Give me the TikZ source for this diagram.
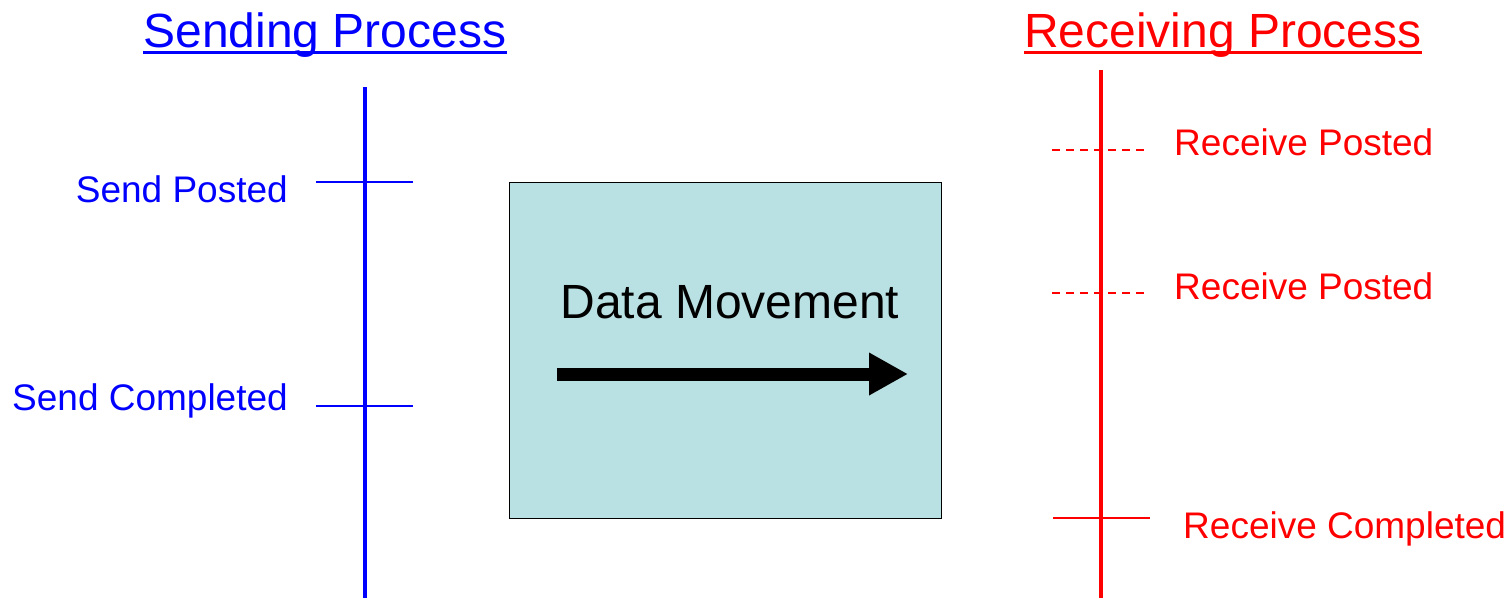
\documentclass[tikz,border=0pt]{standalone}
\usepackage{fontspec}
\setmainfont{Liberation Sans}
\usetikzlibrary{arrows.meta}
\definecolor{sendblue}{RGB}{0,0,255}
\definecolor{recvred}{RGB}{255,0,0}
\definecolor{boxfill}{RGB}{185,224,226}
\tikzset{
  label37/.style={inner sep=0pt, font=\fontsize{37}{44}\selectfont},
  title48/.style={inner sep=0pt, font=\fontsize{48}{56}\selectfont},
  timeline/.style={line width=4pt},
  tick/.style={line width=1.5pt},
  dashtick/.style={line width=1.5pt, dash pattern=on 8pt off 6pt},
}
\begin{document}
\begin{tikzpicture}[x=1pt,y=-1pt]
\useasboundingbox (0,0) rectangle (1509,598);

% titles
\node[title48, text=sendblue, anchor=base] (sendtitle) at (325,47) {Sending Process};
\draw[sendblue, line width=3pt] ([yshift=-5pt]sendtitle.base west) -- ([yshift=-5pt]sendtitle.base east);
\node[title48, text=recvred, anchor=base] (recvtitle) at (1223,47) {Receiving Process};
\draw[recvred, line width=3pt] ([yshift=-5pt]recvtitle.base west) -- ([yshift=-5pt]recvtitle.base east);

% sending timeline
\coordinate (stop) at (365,87);
\coordinate (sbot) at (365,598);
\draw[sendblue, timeline] (stop) -- (sbot);
\coordinate (sp1) at (316,182); \coordinate (sp2) at (413,182);
\coordinate (sc1) at (316,406); \coordinate (sc2) at (413,406);
\draw[sendblue, tick] (sp1) -- (sp2);
\draw[sendblue, tick] (sc1) -- (sc2);
\node[label37, text=sendblue, anchor=base east] (sposted) at (288,202) {Send Posted};
\node[label37, text=sendblue, anchor=base east] (scompleted) at (288,410) {Send Completed};

% receiving timeline
\coordinate (rtop) at (1101,70);
\coordinate (rbot) at (1101,598);
\draw[recvred, timeline] (rtop) -- (rbot);
\coordinate (rp1a) at (1052,150); \coordinate (rp1b) at (1144,150);
\coordinate (rp2a) at (1052,293); \coordinate (rp2b) at (1144,293);
\coordinate (rca) at (1053,518); \coordinate (rcb) at (1150,518);
\draw[recvred, dashtick] (rp1a) -- (rp1b);
\draw[recvred, dashtick] (rp2a) -- (rp2b);
\draw[recvred, tick] (rca) -- (rcb);
\node[label37, text=recvred, anchor=base west] (rposted1) at (1174,155) {Receive Posted};
\node[label37, text=recvred, anchor=base west] (rposted2) at (1174,299) {Receive Posted};
\node[label37, text=recvred, anchor=base west] (rcompleted) at (1183,538) {Receive Completed};

% data movement box
\node[draw=black, line width=1pt, fill=boxfill, minimum width=432pt, minimum height=336pt, inner sep=0pt] (box) at (725,350) {};
\node[title48, anchor=base] (dmlabel) at (730,318) {Data Movement};
\coordinate (arrstart) at (557,374);
\coordinate (arrend) at (908,374);
\draw[line width=13pt, -{Triangle[length=39pt,width=40pt]}] (arrstart) -- (arrend);
\end{tikzpicture}
\end{document}
